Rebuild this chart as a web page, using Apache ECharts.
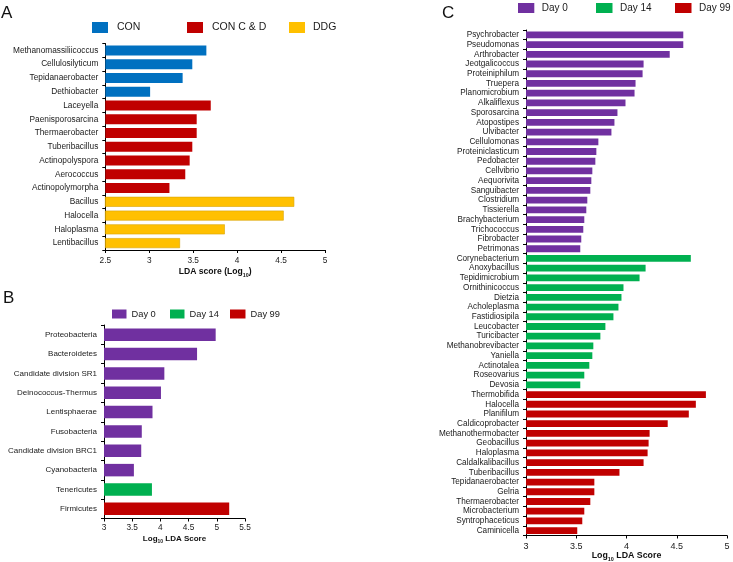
<!DOCTYPE html>
<html>
<head>
<meta charset="utf-8">
<script src="https://cdn.jsdelivr.net/npm/echarts@6/dist/echarts.min.js"></script>
<style>html,body{margin:0;padding:0;background:#fff}#c{width:733px;height:562px}</style>
</head>
<body>
<div id="c"></div>
<script>
// ---------- Panel A ----------
const aConNames = ['Methanomassiliicoccus','Cellulosilyticum','Tepidanaerobacter','Dethiobacter'];
const aConValues = [3.65,3.49,3.38,3.01];
const aCcdNames = ['Laceyella','Paenisporosarcina','Thermaerobacter','Tuberibacillus','Actinopolyspora','Aerococcus','Actinopolymorpha'];
const aCcdValues = [3.70,3.54,3.54,3.49,3.46,3.41,3.23];
const aDdgNames = ['Bacillus','Halocella','Haloplasma','Lentibacillus'];
const aDdgValues = [4.65,4.53,3.86,3.35];
const aTicks = {min:2.5, max:5, interval:0.5};

// ---------- Panel B ----------
const bDay0Names = ['Proteobacteria','Bacteroidetes','Candidate division SR1','Deinococcus-Thermus','Lentisphaerae','Fusobacteria','Candidate division BRC1','Cyanobacteria'];
const bDay0Values = [4.98,4.65,4.07,4.01,3.86,3.67,3.66,3.53];
const bDay14Names = ['Tenericutes'];
const bDay14Values = [3.85];
const bDay99Names = ['Firmicutes'];
const bDay99Values = [5.22];
const bTicks = {min:3, max:5.5, interval:0.5};

// ---------- Panel C ----------
const cDay0Names = ['Psychrobacter','Pseudomonas','Arthrobacter','Jeotgalicoccus','Proteiniphilum','Truepera','Planomicrobium','Alkaliflexus','Sporosarcina','Atopostipes','Ulvibacter','Cellulomonas','Proteiniclasticum','Pedobacter','Cellvibrio','Aequorivita','Sanguibacter','Clostridium','Tissierella','Brachybacterium','Trichococcus','Fibrobacter','Petrimonas'];
const cDay0Values = [4.565,4.565,4.43,4.17,4.16,4.09,4.08,3.99,3.91,3.88,3.85,3.72,3.70,3.69,3.66,3.65,3.64,3.61,3.60,3.58,3.57,3.55,3.54];
const cDay14Names = ['Corynebacterium','Anoxybacillus','Tepidimicrobium','Ornithinicoccus','Dietzia','Acholeplasma','Fastidiosipila','Leucobacter','Turicibacter','Methanobrevibacter','Yaniella','Actinotalea','Roseovarius','Devosia'];
const cDay14Values = [4.64,4.19,4.13,3.97,3.95,3.92,3.87,3.79,3.74,3.67,3.66,3.63,3.58,3.54];
const cDay99Names = ['Thermobifida','Halocella','Planifilum','Caldicoprobacter','Methanothermobacter','Geobacillus','Haloplasma','Caldalkalibacillus','Tuberibacillus','Tepidanaerobacter','Gelria','Thermaerobacter','Microbacterium','Syntrophaceticus','Caminicella'];
const cDay99Values = [4.79,4.69,4.62,4.41,4.23,4.22,4.21,4.17,3.93,3.68,3.68,3.64,3.58,3.56,3.51];
const cTicks = {min:3, max:5, interval:0.5};

const COLORS = {CON:'#0070C0', CCD:'#C00000', DDG:'#FFC000', D0:'#7030A0', D14:'#00B050', D99:'#C00000'};
const FONT = '"Liberation Sans", Arial, Helvetica, sans-serif';

function padGroups(groups) {
  const total = groups.reduce((s, g) => s + g.length, 0);
  let off = 0;
  return groups.map(g => {
    const d = new Array(total).fill('-');
    g.forEach((v, i) => { d[off + i] = v; });
    off += g.length;
    return d;
  });
}

const aCats = aConNames.concat(aCcdNames, aDdgNames);
const bCats = bDay0Names.concat(bDay14Names, bDay99Names);
const cCats = cDay0Names.concat(cDay14Names, cDay99Names);
const aData = padGroups([aConValues, aCcdValues, aDdgValues]);
const bData = padGroups([bDay0Values, bDay14Values, bDay99Values]);
const cData = padGroups([cDay0Values, cDay14Values, cDay99Values]);

function yAxis(idx, cats, fs) {
  return {
    type:'category', gridIndex:idx, data:cats, inverse:true,
    axisLine:{show:true, lineStyle:{color:'#000', width:1}},
    axisTick:{show:true, length:3, interval:0, lineStyle:{color:'#000'}},
    axisLabel:{fontSize:fs, color:'#1a1a1a', margin:7, interval:0, fontFamily:FONT}
  };
}
function xAxis(idx, t, name, gap, fs, nfs, margin) {
  return {
    type:'value', gridIndex:idx, min:t.min, max:t.max, interval:t.interval,
    splitLine:{show:false},
    axisLine:{show:true, lineStyle:{color:'#000', width:1}},
    axisTick:{show:true, length:3, lineStyle:{color:'#000'}},
    axisLabel:{fontSize:fs, color:'#1a1a1a', margin:margin, fontFamily:FONT},
    name:name, nameLocation:'middle', nameGap:gap, nameMoveOverlap:false,
    nameTextStyle:{rich:{
      b:{fontSize:nfs, fontWeight:'bold', color:'#111', lineHeight:12, fontFamily:FONT},
      s:{fontSize:nfs*0.62, fontWeight:'bold', color:'#111', lineHeight:7, verticalAlign:'bottom', fontFamily:FONT}
    }}
  };
}
function bar(name, xi, data, w, color, border) {
  return {
    name:name, type:'bar', xAxisIndex:xi, yAxisIndex:xi, data:data,
    barWidth:w, barGap:'-100%',
    itemStyle:{color:color, borderColor:border || color, borderWidth:border ? 0.6 : 0},
    emphasis:{disabled:true}
  };
}
function leg(name, left, top, w, h, fs, padL) {
  return {
    show:true, data:[name], left:left, top:top, padding:0, orient:'horizontal',
    itemWidth:w, itemHeight:h, icon:'rect', selectedMode:false,
    itemStyle:{borderWidth:0},
    textStyle:{fontSize:fs, color:'#1a1a1a', lineHeight:h, fontFamily:FONT, padding:[0,0,0,padL]}
  };
}

const option = {
  animation:false,
  backgroundColor:'#ffffff',
  textStyle:{fontFamily:FONT},
  title:[
    {text:'A', left:1, top:5, padding:0, textStyle:{fontSize:17, fontWeight:'normal', color:'#111', fontFamily:FONT}},
    {text:'B', left:3, top:290, padding:0, textStyle:{fontSize:17, fontWeight:'normal', color:'#111', fontFamily:FONT}},
    {text:'C', left:442, top:5, padding:0, textStyle:{fontSize:17, fontWeight:'normal', color:'#111', fontFamily:FONT}}
  ],
  grid:[
    {left:105.3, top:43.5, width:219.7, height:206.5, containLabel:false, outerBoundsMode:'none'},
    {left:104, top:325, width:141, height:193.5, containLabel:false, outerBoundsMode:'none'},
    {left:526, top:30, width:201, height:505.5, containLabel:false, outerBoundsMode:'none'}
  ],
  xAxis:[
    xAxis(0, aTicks, '{b|LDA score (Log}{s|10}{b|)}', 16, 8.3, 8.6, 7),
    xAxis(1, bTicks, '{b|Log}{s|10}{b| LDA Score}', 14, 8.3, 8, 5),
    xAxis(2, cTicks, '{b|Log}{s|10}{b| LDA Score}', 14, 9, 8.8, 7)
  ],
  yAxis:[
    yAxis(0, aCats, 8.3),
    yAxis(1, bCats, 8),
    yAxis(2, cCats, 8.2)
  ],
  legend:[
    leg('CON', 92, 22, 16, 11, 10.5, 4),
    leg('CON C & D', 187, 22, 16, 11, 10.5, 4),
    leg('DDG', 289, 22, 16, 11, 10.5, 3),
    leg('Day 0', 112, 309.5, 14.5, 9, 9.3, 0),
    leg('Day 14', 170, 309.5, 14.5, 9, 9.3, 0),
    leg('Day 99', 230, 309.5, 15.5, 9, 9.3, 0),
    leg('Day 0', 518, 3, 16.3, 10, 10, 2.5),
    leg('Day 14', 596, 3, 16.5, 10, 10, 2.5),
    leg('Day 99', 675, 3, 16.5, 10, 10, 2.5)
  ],
  series:[
    bar('CON', 0, aData[0], 10, COLORS.CON),
    bar('CON C & D', 0, aData[1], 10, COLORS.CCD),
    bar('DDG', 0, aData[2], 10, COLORS.DDG, '#D9A300'),
    bar('Day 0', 1, bData[0], 12.5, COLORS.D0),
    bar('Day 14', 1, bData[1], 12.5, COLORS.D14),
    bar('Day 99', 1, bData[2], 12.5, COLORS.D99),
    bar('Day 0', 2, cData[0], 6.8, COLORS.D0),
    bar('Day 14', 2, cData[1], 6.8, COLORS.D14),
    bar('Day 99', 2, cData[2], 6.8, COLORS.D99)
  ]
};

const chart = echarts.init(document.getElementById('c'), null, {renderer:'canvas'});
chart.setOption(option);
</script>
</body>
</html>
